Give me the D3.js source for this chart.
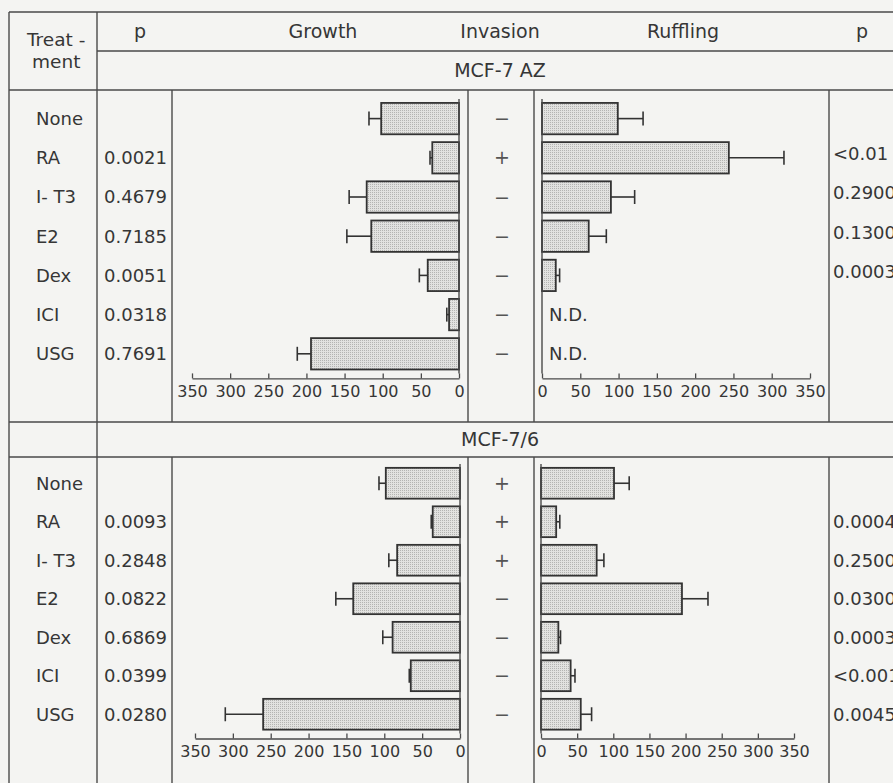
<!DOCTYPE html>
<html>
<head>
<meta charset="utf-8">
<script src="https://cdn.jsdelivr.net/npm/d3@7"></script>
<style>
  body { margin: 0; background: #f4f4f2; }
  svg { display: block; font-family: "DejaVu Sans", sans-serif; }
</style>
</head>
<body>
<svg id="chart" width="893" height="783"></svg>
<script>
var svg = d3.select("#chart");

// rows are the same in both panels
var treatments = ["None", "RA", "I- T3", "E2", "Dex", "ICI", "USG"];
var xTicks = [0, 50, 100, 150, 200, 250, 300, 350];

// MCF-7 AZ
var azGrowth = [102, 35, 121, 115, 41, 13, 194];
var azGrowthErr = [16, 3, 23, 32, 11, 3, 18];
var azRuffling = [99, 244, 90, 61, 18, null, null];
var azRufflingErr = [33, 72, 31, 23, 5, null, null];
var azInvasion = ["\u2212", "+", "\u2212", "\u2212", "\u2212", "\u2212", "\u2212"];
var azPGrowth = ["", "0.0021", "0.4679", "0.7185", "0.0051", "0.0318", "0.7691"];
var azPRuffling = ["", "<0.01", "0.2900", "0.1300", "0.0003", "", ""];

// MCF-7/6
var m6Growth = [98, 36, 83, 141, 89, 65, 260];
var m6GrowthErr = [9, 2, 11, 23, 13, 2, 50];
var m6Ruffling = [101, 21, 77, 195, 24, 41, 55];
var m6RufflingErr = [21, 5, 10, 36, 3, 6, 15];
var m6Invasion = ["+", "+", "+", "\u2212", "\u2212", "\u2212", "\u2212"];
var m6PGrowth = ["", "0.0093", "0.2848", "0.0822", "0.6869", "0.0399", "0.0280"];
var m6PRuffling = ["", "0.0004", "0.2500", "0.0300", "0.0003", "<0.001", "0.0045"];

var lineColor = "#4a4a4a";
var textColor = "#363636";

// stipple fill for the bars
var defs = svg.append("defs");
var pat = defs.append("pattern")
  .attr("id", "stipple")
  .attr("width", 2).attr("height", 2)
  .attr("patternUnits", "userSpaceOnUse");
pat.append("rect").attr("width", 2).attr("height", 2).attr("fill", "#e2e2e0");
pat.append("rect").attr("width", 1).attr("height", 1).attr("fill", "#b4b4b2");

function hline(x1, x2, y) {
  svg.append("line").attr("x1", x1).attr("x2", x2).attr("y1", y).attr("y2", y)
    .attr("stroke", lineColor).attr("stroke-width", 1.4);
}
function vline(x, y1, y2) {
  svg.append("line").attr("x1", x).attr("x2", x).attr("y1", y1).attr("y2", y2)
    .attr("stroke", lineColor).attr("stroke-width", 1.4);
}
function label(x, y, txt, anchor, size) {
  return svg.append("text")
    .attr("x", x).attr("y", y)
    .attr("text-anchor", anchor || "start")
    .style("font-size", (size || 18) + "px")
    .style("fill", textColor)
    .text(txt);
}

// table grid
hline(9, 893, 12);
hline(97, 893, 51);
hline(9, 893, 90);
hline(9, 893, 422);
hline(9, 893, 457);
vline(9, 12, 783);
vline(97, 12, 783);
[172, 468, 534, 829].forEach(function (x) {
  vline(x, 90, 422);
  vline(x, 457, 783);
});

// header
label(27, 46, "Treat -", "start", 18.5);
label(32, 68, "ment", "start", 18.5);
label(140, 38, "p", "middle", 19);
label(323, 38, "Growth", "middle", 19);
label(500, 38, "Invasion", "middle", 19);
label(683, 38, "Ruffling", "middle", 19);
label(862, 38, "p", "middle", 19);
label(500, 77, "MCF-7 AZ", "middle", 19);
label(500, 446, "MCF-7/6", "middle", 19);

function drawBars(yScale, xScale, values, errs) {
  treatments.forEach(function (t, i) {
    if (values[i] == null) return;
    var x0 = xScale(0), x1 = xScale(values[i]);
    var y = yScale(t), h = yScale.bandwidth();
    var cy = y + h / 2;
    // error bar first so the bar outline sits on top
    var xe = xScale(values[i] + errs[i]);
    svg.append("line").attr("x1", x1).attr("x2", xe).attr("y1", cy).attr("y2", cy)
      .attr("stroke", "#333").attr("stroke-width", 1.6);
    svg.append("line").attr("x1", xe).attr("x2", xe).attr("y1", cy - 7).attr("y2", cy + 7)
      .attr("stroke", "#333").attr("stroke-width", 1.6);
    svg.append("rect")
      .attr("x", Math.min(x0, x1))
      .attr("y", y)
      .attr("width", Math.abs(x1 - x0))
      .attr("height", h)
      .attr("fill", "url(#stipple)")
      .attr("stroke", "#333")
      .attr("stroke-width", 1.8);
  });
  // zero line running down the panel
  var r = yScale.range();
  vline(xScale(0), r[0], r[1]);

  var axis = d3.axisBottom(xScale).tickValues(xTicks).tickSizeInner(-5).tickSizeOuter(0).tickPadding(7);
  var g = svg.append("g")
    .attr("transform", "translate(0," + (r[1] + 5) + ")")
    .call(axis);
  g.attr("font-family", null).attr("font-size", null);
  g.selectAll("path, line").attr("stroke", lineColor).attr("stroke-width", 1.3);
  g.selectAll("text").style("font-size", "16px").style("fill", textColor);
}

function drawPanel(cfg) {
  var yScale = d3.scaleBand()
    .domain(treatments)
    .range(cfg.yRange)
    .paddingInner(0.2)
    .paddingOuter(0.1);

  var growthScale = d3.scaleLinear().domain([0, 350]).range(cfg.growthRange);
  var ruffScale = d3.scaleLinear().domain([0, 350]).range(cfg.ruffRange);

  drawBars(yScale, growthScale, cfg.growth, cfg.growthErr);
  drawBars(yScale, ruffScale, cfg.ruff, cfg.ruffErr);

  treatments.forEach(function (t, i) {
    var cy = yScale(t) + yScale.bandwidth() / 2;
    label(36, cy, t).attr("dy", "0.35em");
    label(104, cy, cfg.pGrowth[i]).attr("dy", "0.35em");
    label(502, cy, cfg.invasion[i], "middle", 19).attr("dy", "0.35em").style("fill", "#555");
    label(833, cy + cfg.pOffset, cfg.pRuff[i]).attr("dy", "0.35em");
    if (cfg.ruff[i] == null) {
      label(549, cy, "N.D.").attr("dy", "0.35em");
    }
  });
}

drawPanel({
  yRange: [99, 373.4],
  growthRange: [459, 192],
  ruffRange: [542, 810],
  growth: azGrowth, growthErr: azGrowthErr,
  ruff: azRuffling, ruffErr: azRufflingErr,
  invasion: azInvasion,
  pGrowth: azPGrowth, pRuff: azPRuffling,
  pOffset: -4
});

drawPanel({
  yRange: [464, 733.5],
  growthRange: [460, 195],
  ruffRange: [541, 794],
  growth: m6Growth, growthErr: m6GrowthErr,
  ruff: m6Ruffling, ruffErr: m6RufflingErr,
  invasion: m6Invasion,
  pGrowth: m6PGrowth, pRuff: m6PRuffling,
  pOffset: 0
});
</script>
</body>
</html>
